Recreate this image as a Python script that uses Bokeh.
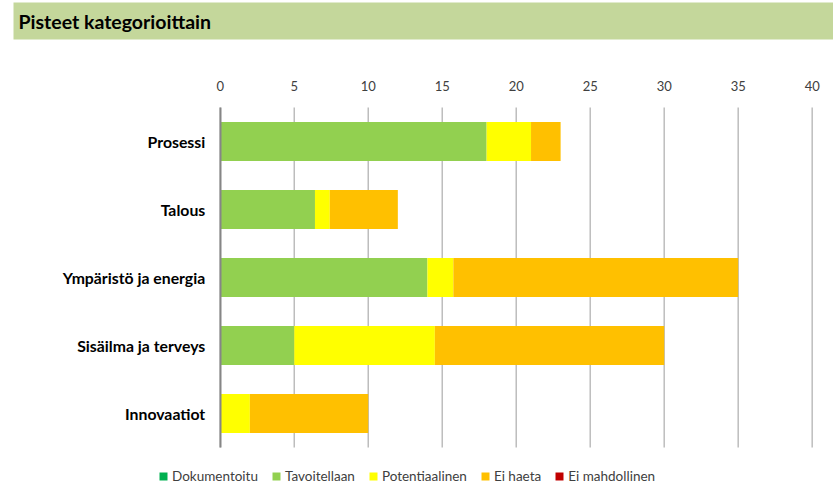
from bokeh.plotting import figure
from bokeh.models import (Range1d, FixedTicker, Legend, LegendItem, Label, ColumnDataSource)
from bokeh.embed import file_html
from bokeh.resources import INLINE

categories = ["Prosessi", "Talous", "Ympäristö ja energia", "Sisäilma ja terveys", "Innovaatiot"]
series = ["Dokumentoitu", "Tavoitellaan", "Potentiaalinen", "Ei haeta", "Ei mahdollinen"]
dokumentoitu = [0, 0, 0, 0, 0]
tavoitellaan = [18, 6.4, 14, 5, 0]
potentiaalinen = [3, 1, 1.75, 9.5, 2]
ei_haeta = [2, 4.6, 19.25, 15.5, 8]
ei_mahdollinen = [0, 0, 0, 0, 0]
colors = ["#00B050", "#92D050", "#FFFF00", "#FFC000", "#C00000"]
x_ticks = [0, 5, 10, 15, 20, 25, 30, 35, 40]
title_text = "Pisteet kategorioittain"

FONT = "Lato"
n = len(categories)
ypos = list(range(n, 0, -1))  # first category on top

source = ColumnDataSource(dict(
    y=ypos,
    Dokumentoitu=dokumentoitu,
    Tavoitellaan=tavoitellaan,
    Potentiaalinen=potentiaalinen,
    **{"Ei haeta": ei_haeta, "Ei mahdollinen": ei_mahdollinen},
))

p = figure(width=833, height=485, output_backend="svg", toolbar_location=None,
           x_range=Range1d(-14.85, 41.44), y_range=Range1d(-0.0588, 7.0735),
           x_axis_location="above",
           min_border_left=0, min_border_right=0, min_border_top=0, min_border_bottom=0)
p.outline_line_color = None
p.background_fill_color = "white"
p.border_fill_color = "white"
p.xgrid.visible = False
p.ygrid.visible = False

# vertical grid lines limited to the category band
p.segment(x0=x_ticks, x1=x_ticks, y0=0.5, y1=n + 0.5, line_color="#BDBDBD", line_width=1.5)

renderers = p.hbar_stack(series, y="y", height=0.57, fill_color=colors,
                         line_color=None, source=source)

# x axis (top), fixed at top of category band
xa = p.xaxis[0]
xa.fixed_location = n + 0.5
xa.ticker = FixedTicker(ticks=x_ticks)
xa.axis_line_color = None
xa.major_tick_line_color = None
xa.minor_tick_line_color = None
xa.major_tick_out = 0
xa.major_label_standoff = 16
xa.major_label_text_font = FONT
xa.major_label_text_font_size = "13px"
xa.major_label_text_color = "#404040"

# y axis at x = 0
ya = p.yaxis[0]
ya.fixed_location = 0
ya.bounds = (0.5, n + 0.5)
ya.ticker = FixedTicker(ticks=ypos)
ya.major_label_overrides = {y: c for y, c in zip(ypos, categories)}
ya.axis_line_color = "#868686"
ya.axis_line_width = 2
ya.major_tick_line_color = None
ya.minor_tick_line_color = None
ya.major_tick_out = 0
ya.major_label_standoff = 15
ya.major_label_text_font = FONT
ya.major_label_text_font_size = "15.8px"
ya.major_label_text_font_style = "bold"
ya.major_label_text_color = "#000000"

legend = Legend(items=[LegendItem(label=s, renderers=[r]) for s, r in zip(series, renderers)],
                orientation="horizontal", location=(158, 1), padding=0, margin=0,
                spacing=13, glyph_width=10, glyph_height=10, label_standoff=4,
                label_text_font=FONT, label_text_font_size="13.5px",
                label_text_color="#404040", border_line_color=None,
                background_fill_alpha=0)
p.add_layout(legend)

title = Label(text=title_text, x=13, y=485 - 20.5, x_units="screen", y_units="screen",
              text_align="left", text_baseline="middle", text_font=FONT,
              text_font_size="19.5px", text_font_style="bold", text_color="#000000",
              background_fill_color="#C4D79B", padding=(5, 900, 7, 7))
p.add_layout(title)

open("out.html", "w").write(file_html(p, INLINE))
